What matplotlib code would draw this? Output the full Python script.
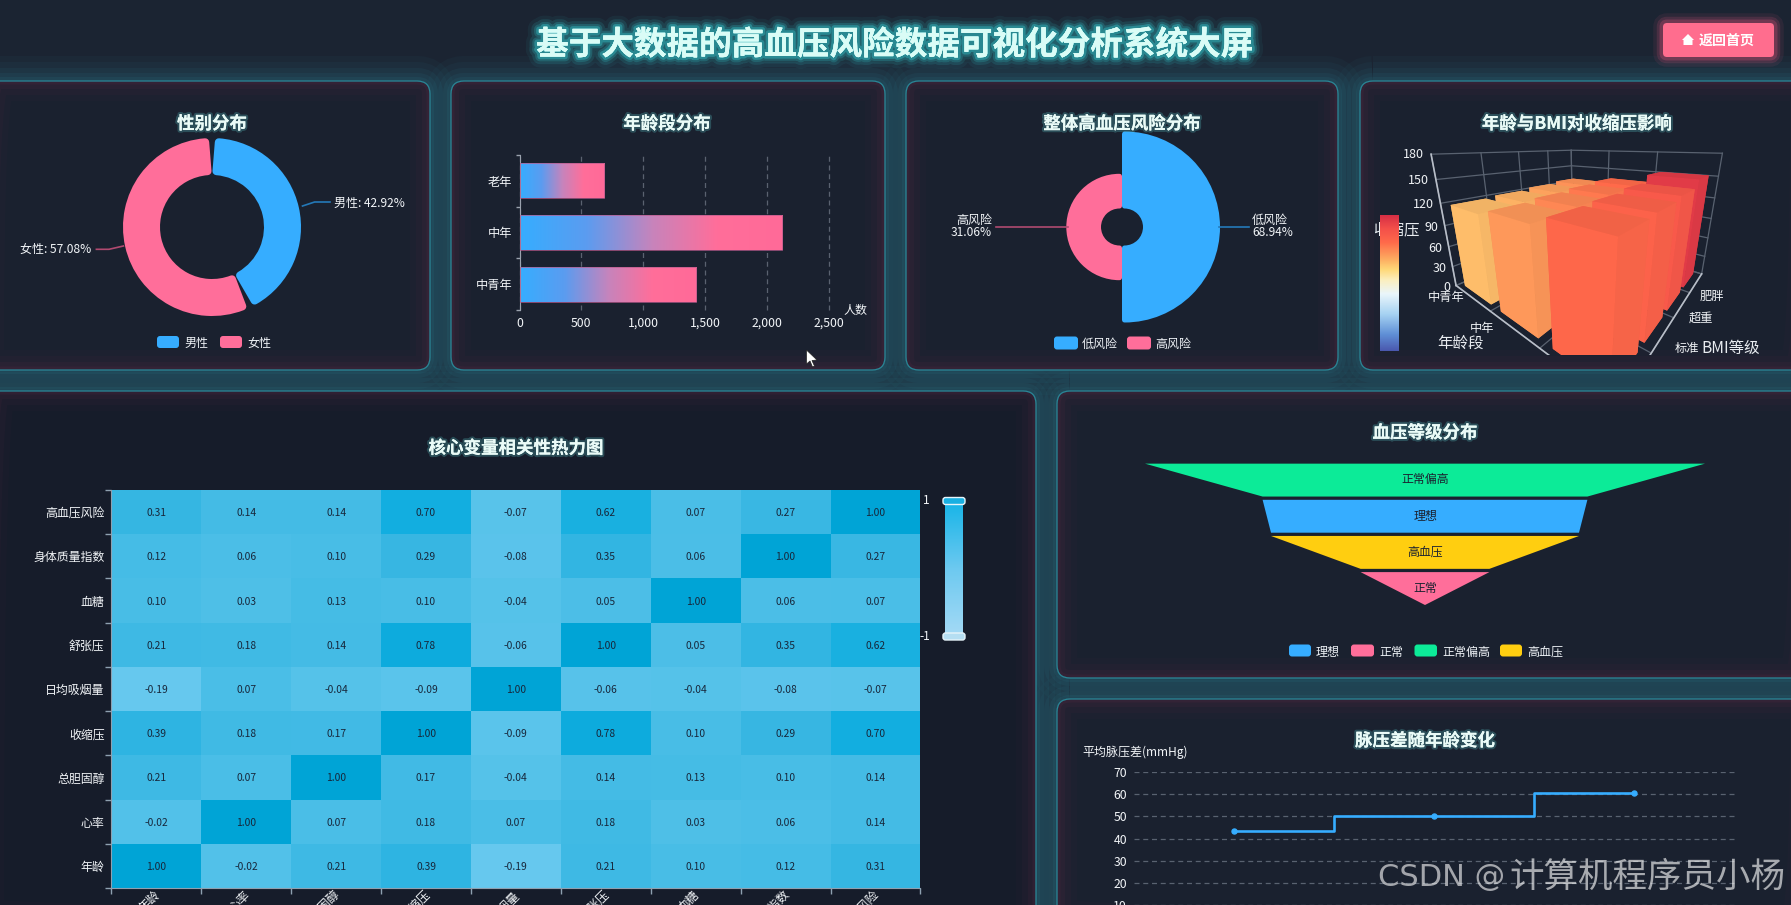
import numpy as np
import matplotlib
matplotlib.use("Agg")
import matplotlib.pyplot as plt
import matplotlib.patheffects as pe
from matplotlib.patches import FancyBboxPatch, Wedge, Polygon
from matplotlib.colors import LinearSegmentedColormap, Normalize
from matplotlib.transforms import Bbox

plt.rcParams['font.family'] = ['Noto Sans CJK SC', 'DejaVu Sans']
plt.rcParams['axes.unicode_minus'] = False

# ---------- data ----------
gender_names = ['男性', '女性']
gender_pct = [42.92, 57.08]
age_names = ['中青年', '中年', '老年']
age_counts = [1424, 2120, 686]
risk_names = ['低风险', '高风险']
risk_pct = [68.94, 31.06]
bmi_names = ['偏瘦', '标准', '超重', '肥胖']
sbp_young = [118, 120, 123, 126]
sbp_middle = [125, 128, 131, 134]
sbp_old = [135, 137, 141, 151]
z_ticks = [0, 30, 60, 90, 120, 150, 180]
corr_labels = ['年龄', '心率', '总胆固醇', '收缩压', '日均吸烟量', '舒张压', '血糖', '身体质量指数', '高血压风险']
corr_rows = [
    [1.00, -0.02, 0.21, 0.39, -0.19, 0.21, 0.10, 0.12, 0.31],
    [-0.02, 1.00, 0.07, 0.18, 0.07, 0.18, 0.03, 0.06, 0.14],
    [0.21, 0.07, 1.00, 0.17, -0.04, 0.14, 0.13, 0.10, 0.14],
    [0.39, 0.18, 0.17, 1.00, -0.09, 0.78, 0.10, 0.29, 0.70],
    [-0.19, 0.07, -0.04, -0.09, 1.00, -0.06, -0.04, -0.08, -0.07],
    [0.21, 0.18, 0.14, 0.78, -0.06, 1.00, 0.05, 0.35, 0.62],
    [0.10, 0.03, 0.13, 0.10, -0.04, 0.05, 1.00, 0.06, 0.07],
    [0.12, 0.06, 0.10, 0.29, -0.08, 0.35, 0.06, 1.00, 0.27],
    [0.31, 0.14, 0.14, 0.70, -0.07, 0.62, 0.07, 0.27, 1.00],
]
funnel_names = ['正常偏高', '理想', '高血压', '正常']
funnel_values = [100, 58, 55, 23]
pulse_ages = ['中青年', '中年', '老年']
pulse_values = [43.5, 50.3, 60.7]
pulse_ticks = [10, 20, 30, 40, 50, 60, 70]

BLUE, PINK, GREEN, YELLOW = '#36ADFF', '#FF6E9A', '#0CEB98', '#FFCE10'
W, H = 1791, 905
fig = plt.figure(figsize=(W / 100, H / 100), dpi=100, facecolor='#1B2432')


def sub(x0, y0, x1, y1, **kw):
    a = fig.add_axes([x0 / W, 1 - y1 / H, (x1 - x0) / W, (y1 - y0) / H], **kw)
    a.patch.set_visible(False)
    return a


bg = sub(0, 0, W, H, zorder=0)
bg.set_xlim(0, W); bg.set_ylim(H, 0); bg.axis('off')
top = sub(0, 0, W, H, zorder=20)
top.set_xlim(0, W); top.set_ylim(H, 0); top.axis('off')


def T(x, y, s, px=12, c='#F2F5F8', ha='center', va='center_baseline', w='normal', a=None, **kw):
    a = a or top
    return a.text(x, y, s, fontsize=px * 0.72, color=c, ha=ha, va=va, fontweight=w, clip_on=False, **kw)


glow = lambda col, ws, al: [pe.withStroke(linewidth=l, foreground=col, alpha=o) for l, o in zip(ws, al)] + [pe.Normal()]

# ---------- cards ----------
cards = [(-16, 81, 430, 370, '#1A212F'), (451, 81, 885, 370, '#1A212F'), (906, 81, 1338, 370, '#1A212F'),
         (1360, 81, 1810, 370, '#1A212F'), (-16, 391, 1036, 930, '#161C2A'), (1057, 391, 1810, 678, '#1A212F'),
         (1057, 699, 1810, 930, '#1A212F')]
style = 'round,pad=0,rounding_size=13'
for x0, y0, x1, y1, fc in cards:
    for lw, al in [(50, .05), (38, .06), (26, .08), (16, .09), (8, .1)]:
        bg.add_patch(FancyBboxPatch((x0, y0), x1 - x0, y1 - y0, boxstyle=style, fc='none',
                                    ec='#2F8C9E', lw=lw * .72, alpha=al, clip_on=False))
for x0, y0, x1, y1, fc in cards:
    base = FancyBboxPatch((x0, y0), x1 - x0, y1 - y0, boxstyle=style, fc=fc, ec='none')
    bg.add_patch(base)
    for lw, al in [(40, .025), (28, .035), (16, .05), (7, .08)]:
        p = FancyBboxPatch((x0, y0), x1 - x0, y1 - y0, boxstyle=style, fc='none', ec='#B03A66', lw=lw * .72, alpha=al)
        bg.add_patch(p)
        p.set_clip_path(base)
    bg.add_patch(FancyBboxPatch((x0, y0), x1 - x0, y1 - y0, boxstyle=style, fc='none', ec='#2A8595', lw=.95))

# ---------- header ----------
T(895, 41.5, '基于大数据的高血压风险数据可视化分析系统大屏', 32.6, '#DAFCF6', w='bold',
  path_effects=glow('#35D6DC', [16, 11, 7, 4], [.06, .12, .2, .35]))
for grow, al in [(14, .08), (9, .14), (5, .22)]:
    bg.add_patch(FancyBboxPatch((1663, 23), 111, 34, boxstyle='round,pad=0,rounding_size=4', fc='none',
                                ec='#FF5C86', lw=grow, alpha=al))
bg.add_patch(FancyBboxPatch((1663, 23), 111, 34, boxstyle='round,pad=0,rounding_size=4', fc='#FF6D8E', ec='none'))
top.add_patch(Polygon([(1688, 34), (1694, 40), (1692.5, 40), (1692.5, 45), (1683.5, 45), (1683.5, 40), (1682, 40)],
                      fc='white', ec='none'))
T(1699, 40, '返回首页', 14, 'white', ha='left', w='bold')

# card titles
for x, y, s in [(212, 122, '性别分布'), (667, 122, '年龄段分布'), (1122, 122, '整体高血压风险分布'),
                (1577, 122, '年龄与BMI对收缩压影响'), (516, 446.5, '核心变量相关性热力图'),
                (1425, 431, '血压等级分布'), (1425, 739, '脉压差随年龄变化')]:
    T(x, y, s, 17.5, '#EAFBF7', w='bold', path_effects=glow('#5FD8D8', [3], [.25]))


def legend(items, y, h=12):
    for x0, x1, col, tx, s in items:
        top.add_patch(FancyBboxPatch((x0, y - h / 2), x1 - x0, h, boxstyle='round,pad=0,rounding_size=3', fc=col, ec='none'))
        T(tx, y, s, 12, '#EEF2F6', ha='left')


# ---------- donut ----------
ax = sub(112, 127, 312, 327)
ax.set_xlim(-100, 100); ax.set_ylim(-100, 100); ax.axis('off')
cols = [BLUE, PINK]
ang = 90.0
for v, col in zip(gender_pct, cols):
    span = v / sum(gender_pct) * 360
    ax.add_patch(Wedge((0, 0), 85, ang - span + 4.6, ang - 4.6, width=29, fc=col, ec=col,
                       lw=8 * .72, joinstyle='round'))
    ang -= span
top.plot([302.5, 314.6, 330], [206, 202, 202], color='#2479B8', lw=1.2)
top.plot([123.4, 109, 96.4], [246, 249.3, 249.3], color='#B04A70', lw=1.2)
T(334, 201.5, f'{gender_names[0]}: {gender_pct[0]:.2f}%', 12, ha='left')
T(91, 248, f'{gender_names[1]}: {gender_pct[1]:.2f}%', 12, ha='right')
legend([(157, 179, BLUE, 184, gender_names[0]), (220, 242, PINK, 247, gender_names[1])], 342)

# ---------- age bars ----------
ax = sub(519.5, 155, 829, 310)
age_y = np.arange(len(age_names))
ax.set_xlim(0, 2500); ax.set_ylim(-.5, 2.5)
bars = ax.barh(age_y, age_counts, height=0.68, fc='none', ec='#B85A8C', lw=.5, zorder=3)
cm_bar = LinearSegmentedColormap.from_list('b', [BLUE, '#5B9CF0', '#C684BC', PINK, '#FF6A98'])
for b in bars:
    im = ax.imshow(np.linspace(0, 1, 128)[None, :], cmap=cm_bar, aspect='auto', zorder=2,
                   extent=[0, b.get_width(), b.get_y(), b.get_y() + b.get_height()])
    im.set_clip_path(b)
ax.set_xlim(0, 2500); ax.set_ylim(-.5, 2.5)
ax.set_xticks([0, 500, 1000, 1500, 2000, 2500])
ax.set_xticklabels(['0', '500', '1,000', '1,500', '2,000', '2,500'], fontsize=8.8, color='#F2F5F8')
ax.tick_params(axis='x', length=0, pad=5)
ax.grid(axis='x', color='#5A6270', ls=(0, (4, 3)), lw=.9, zorder=1)
for g in ax.get_xgridlines():
    g.set_clip_on(False)
ax.set_yticks(age_y, age_names, fontsize=8.8, color='#F2F5F8', va='center_baseline')
ax.set_yticks([-.5, .5, 1.5, 2.5], minor=True)
ax.tick_params(axis='y', which='major', length=0, pad=5)
ax.tick_params(axis='y', which='minor', length=3, color='#9AA2AE', width=1)
for s in ['top', 'right', 'bottom']:
    ax.spines[s].set_visible(False)
ax.spines['left'].set_color('#9AA2AE')
T(855, 308.5, '人数', 12)

# ---------- rose ----------
ax = sub(1002, 107, 1242, 347)
ax.set_xlim(-120, 120); ax.set_ylim(-120, 120); ax.axis('off')
r0, R = 19, 96
for v, col, t1, t2, sgn in zip(risk_pct, [BLUE, PINK], [-90, 90], [90, 270], [1, -1]):
    r = r0 + v / max(risk_pct) * (R - r0)
    ax.add_patch(Wedge((sgn * 2.5, 0), r - 3, t1, t2, width=r - r0 - 5, fc=col, ec=col, lw=5 * .72, joinstyle='round'))
top.plot([996, 1068], [226.7, 226.7], color='#B04A70', lw=1.2)
top.plot([1218.7, 1249], [226.7, 226.7], color='#2479B8', lw=1.2)
T(1252, 219, risk_names[0], 12, ha='left')
T(1252, 230.5, f'{risk_pct[0]:.2f}%', 12, ha='left')
T(992, 219, risk_names[1], 12, ha='right')
T(992, 230.5, f'{risk_pct[1]:.2f}%', 12, ha='right')
legend([(1054, 1078, BLUE, 1082, risk_names[0]), (1127, 1151, PINK, 1155, risk_names[1])], 343, 13)

# ---------- 3D bars ----------
stops = [(0, '#4A58AE'), (.12, '#5F8FD6'), (.27, '#A6D2F2'), (.42, '#EAF6FB'), (.52, '#FBEFC0'), (.6, '#FFD878'),
         (.68, '#FDAA60'), (.8, '#FF6A4A'), (.9, '#F4504A'), (1, '#D62F45')]
cm3 = LinearSegmentedColormap.from_list('v', stops)
norm3 = Normalize(50, 155)
S = 304
cx3, cy3 = 1580, 226
ax3 = fig.add_axes([(cx3 - S / 2) / W, 1 - (cy3 + S / 2) / H, S / W, S / H], projection='3d', zorder=5, computed_zorder=False)
ax3.patch.set_visible(False)
ax3.set_axis_off()
ax3.set_xlim(0, 3); ax3.set_ylim(0, 4); ax3.set_zlim(0, 180)
ax3.set_proj_type('persp', focal_length=0.1456)
ax3.view_init(elev=18, azim=-51.5)
ax3.set_box_aspect((1.18, 1.12, 0.8), zoom=0.95)
clip3 = Bbox([[1360, H - 355], [1791, H - 81]])
grid_c, axis_c = '#596270', '#B8BEC8'
art3 = []
for z in z_ticks:
    art3 += ax3.plot([0, 0, 3], [0, 4, 4], [z, z, z], color=grid_c, lw=.9, zorder=1)
    art3.append(ax3.text(0, -0.12, z, str(z), fontsize=9, color='#F0F3F6', ha='right', va='center'))
for yy in range(5):
    art3 += ax3.plot([0, 0], [yy, yy], [0, 180], color=grid_c, lw=.9, zorder=1)
    art3 += ax3.plot([0, 3], [yy, yy], [0, 0], color=grid_c, lw=.9, zorder=1)
for xx in range(4):
    art3 += ax3.plot([xx, xx], [4, 4], [0, 180], color=grid_c, lw=.9, zorder=1)
    art3 += ax3.plot([xx, xx], [0, 4], [0, 0], color=grid_c, lw=.9, zorder=1)
art3 += ax3.plot([0, 0], [0, 0], [0, 180], color=axis_c, lw=1.2, zorder=2)
art3 += ax3.plot([0, 3, 3], [0, 0, 4], [0, 0, 0], color=axis_c, lw=1.2, zorder=2)
sbp = [sbp_young, sbp_middle, sbp_old]
order = 10
face_shade = [.95, .95, 1.0, .97, .97, .97]
for i in range(len(age_names)):
    for j in reversed(range(len(bmi_names))):
        base = np.array(cm3(norm3(sbp[i][j]))[:3])
        fcols = [tuple(np.clip(base * s, 0, 1)) for s in face_shade]
        c = ax3.bar3d(i + .12, j + .12, 0, .76, .76, sbp[i][j], color=fcols, shade=False, linewidth=0, zorder=order)
        order += 1
        art3.append(c)
for i, s in enumerate(age_names):
    art3.append(ax3.text(i + .22, -.34, 0, s, fontsize=8.8, color='#F0F3F6', ha='center', va='center'))
for j, s in enumerate(bmi_names):
    art3.append(ax3.text(3.22, j + .95, -30, s, fontsize=8.8, color='#F0F3F6', ha='center', va='center'))
for a in art3:
    a.set_clip_path(None)
    a.set_clip_on(True)
    a.set_clip_box(clip3)
T(1396, 229, '收缩压', 15.5, '#E8ECF0', a=bg, zorder=5)
cb = sub(1379.5, 215, 1398.5, 351, zorder=6)
cb.imshow(np.linspace(1, 0, 256)[:, None], cmap=cm3, aspect='auto')
cb.axis('off')
T(1461, 341, '年龄段', 15.5, '#E8ECF0')
T(1731, 346, 'BMI等级', 15.5, '#E8ECF0')

# ---------- heatmap ----------
ax = sub(111.4, 490, 920.4, 888)
cm_h = LinearSegmentedColormap.from_list('h', [(0, '#A8DCF6'), (.405, '#66C8EE'), (.5, '#50C0E8'), (.65, '#36B6E2'),
                                               (.85, '#12AEE0'), (1, '#00A4D6')])
M = np.array(corr_rows)
n = len(corr_labels)
ax.pcolormesh(np.arange(n + 1), np.arange(n + 1), M, cmap=cm_h, vmin=-1, vmax=1)
for r in range(n):
    for c in range(n):
        ax.text(c + .5, r + .5, f'{M[r, c]:.2f}', ha='center', va='center_baseline', fontsize=7.4, color='#17263A')
ax.set_xlim(0, n); ax.set_ylim(0, n)
ax.set_yticks(np.arange(n) + .5, corr_labels, fontsize=8.6, color='#F2F5F8', va='center_baseline')
ax.set_yticks(np.arange(n + 1), minor=True)
ax.set_xticks(np.arange(n + 1), minor=True)
ax.set_xticks(np.arange(n) + .5, [''] * n)
ax.tick_params(which='major', length=0, pad=5)
ax.tick_params(which='minor', length=4, color='#8EA0B0', width=1)
for s in ['top', 'right']:
    ax.spines[s].set_visible(False)
for s in ['left', 'bottom']:
    ax.spines[s].set_color('#8EA0B0')
for k, s in enumerate(corr_labels):
    ax.annotate(s, (k + .5, 0), xytext=(-2, 0), textcoords='offset points', rotation=45, rotation_mode='anchor',
                ha='right', va='top', fontsize=8.6, color='#F2F5F8', annotation_clip=False)
sl = sub(945, 504, 963, 633)
sl.imshow(np.linspace(1, -1, 128)[:, None], aspect='auto',
          cmap=LinearSegmentedColormap.from_list('s', ['#A2D9F5', '#6CC9F0', '#19B5E8']), vmin=-1, vmax=1)
sl.axis('off')
for y0, fc in [(497.5, '#19B0E2'), (633, '#B5DEF2')]:
    top.add_patch(FancyBboxPatch((943, y0), 22, 7, boxstyle='round,pad=0,rounding_size=2.5', fc=fc, ec='#E6F4FA', lw=1))
T(926, 499, '1', 12)
T(925, 635, '-1', 12)

# ---------- funnel ----------
ax = sub(1145, 460.4, 1705, 605)
ax.set_xlim(-max(funnel_values), max(funnel_values)); ax.set_ylim(len(funnel_values), 0); ax.axis('off')
fcols = [GREEN, BLUE, YELLOW, PINK]
nxt = funnel_values[1:] + [0]
for i, (v, vn, col, s) in enumerate(zip(funnel_values, nxt, fcols, funnel_names)):
    ax.fill([-v, v, vn, -vn], [i + .09, i + .09, i + 1, i + 1], color=col, lw=0)
    ax.text(0, i + .5, s, ha='center', va='center_baseline', fontsize=8.6, color='#1B2230')
legend([(1289, 1311, BLUE, 1316, '理想'), (1351, 1374, PINK, 1379.5, '正常'),
        (1414.5, 1437, GREEN, 1442, '正常偏高'), (1500, 1522, YELLOW, 1527.5, '高血压')], 650.5)

# ---------- pulse line ----------
ax = sub(1134, 772, 1734.5, 905)
ax.set_xlim(-.5, 2.5); ax.set_ylim(10, 70)
ax.plot(range(len(pulse_ages)), pulse_values, drawstyle='steps-mid', color=BLUE, lw=1.9, zorder=3, clip_on=False)
ax.plot(range(len(pulse_ages)), pulse_values, ls='none', color=BLUE, marker='o', ms=3.6, zorder=4, clip_on=False)
ax.set_yticks(pulse_ticks)
ax.set_yticklabels([str(v) for v in pulse_ticks], fontsize=8.8, color='#F2F5F8')
ax.set_xticks([])
ax.tick_params(axis='y', length=0, pad=5)
ax.grid(axis='y', color='#596270', ls=(0, (4, 3)), lw=.9)
for s in ax.spines.values():
    s.set_visible(False)
T(1082, 750.5, '平均脉压差(mmHg)', 12, ha='left')

# ---------- cursor + watermark ----------
top.add_patch(Polygon([(806.5, 350), (806.5, 364), (810, 361), (812.5, 367), (814.5, 366), (812, 360.5), (817, 360)],
                      fc='white', ec='#222222', lw=.5))
top.text(1378.5, 886, 'CSDN @', fontsize=30.5 * .72, family='DejaVu Sans', color='white', alpha=.6, ha='left', va='baseline')
T(1509, 873, '计算机程序员小杨', 34.5, '#FFFFFF', ha='left', alpha=.62)

fig.savefig('out.png', dpi=100, facecolor=fig.get_facecolor())
